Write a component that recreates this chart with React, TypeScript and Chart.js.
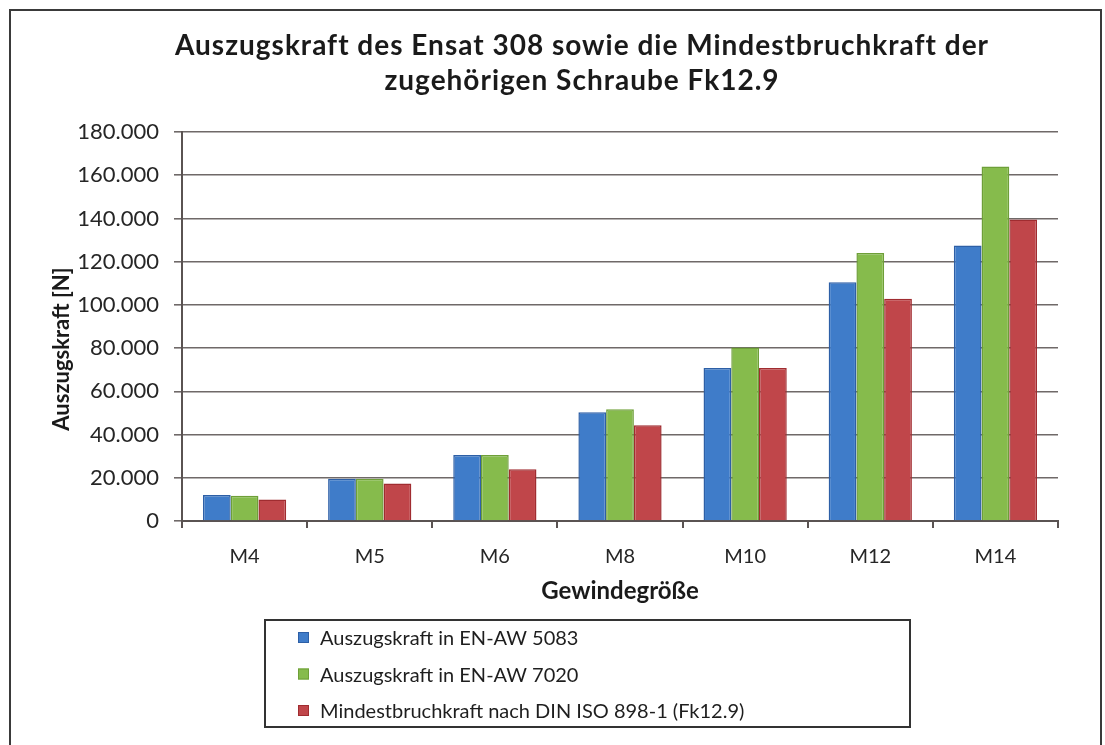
import React, { useEffect, useRef } from 'react';
import { Chart, registerables } from 'chart.js';

Chart.register(...registerables);

const categories = ['M4', 'M5', 'M6', 'M8', 'M10', 'M12', 'M14'];
const seriesNames = [
  'Auszugskraft in EN-AW 5083',
  'Auszugskraft in EN-AW 7020',
  'Mindestbruchkraft nach DIN ISO 898-1 (Fk12.9)',
];
const aw5083 = [12000, 19500, 30500, 50300, 70800, 110500, 127500];
const aw7020 = [11700, 19500, 30500, 51700, 80300, 124000, 164000];
const din898 = [10000, 17300, 24000, 44300, 70800, 102800, 139500];
const titleLines = [
  'Auszugskraft des Ensat 308 sowie die Mindestbruchkraft der',
  'zugehörigen Schraube Fk12.9',
];
const xTitle = 'Gewindegröße';
const yTitle = 'Auszugskraft [N]';
const yMax = 180000;
const yStep = 20000;

const fills = ['#3f7cc9', '#86bb4c', '#c0464a'];
const borders = ['#2d5fa6', '#6e9f38', '#a02c30'];
const FONT = 'Lato, "Noto Sans", sans-serif';

function fmt(v: number): string {
  if (v === 0) return '0';
  const s = String(Math.round(v));
  return s.replace(/\B(?=(\d{3})+(?!\d))/g, '.');
}

const framePlugin = {
  id: 'frameLegend',
  beforeDraw(chart: any) {
    const ctx = chart.ctx;
    ctx.save();
    ctx.fillStyle = '#ffffff';
    ctx.fillRect(0, 0, chart.width, chart.height);
    ctx.restore();
  },
  afterDraw(chart: any) {
    const ctx = chart.ctx;
    ctx.save();
    ctx.strokeStyle = '#3a3a3a';
    ctx.lineWidth = 2;
    ctx.strokeRect(10, 10, 1091, 780);

    // title
    ctx.fillStyle = '#1a1a1a';
    ctx.textAlign = 'center';
    ctx.textBaseline = 'middle';
    ctx.font = 'bold 28px ' + FONT;
    try { (ctx as any).letterSpacing = '1px'; } catch (e) {}
    titleLines.forEach((t, i) => ctx.fillText(t, 582, 46 + i * 35));
    try { (ctx as any).letterSpacing = '0px'; } catch (e) {}

    // y axis title
    ctx.save();
    ctx.translate(62, 349);
    ctx.rotate(-Math.PI / 2);
    ctx.font = 'bold 22px ' + FONT;
    ctx.fillText(yTitle, 0, 0);
    ctx.restore();

    // legend box
    const bx = 265, by = 620, bw = 645, bh = 107;
    ctx.strokeStyle = '#333333';
    ctx.lineWidth = 2;
    ctx.strokeRect(bx, by, bw, bh);
    ctx.font = '20px ' + FONT;
    ctx.textBaseline = 'middle';
    ctx.textAlign = 'left';
    chart.data.datasets.forEach((ds: any, i: number) => {
      const cy = by + 18 + i * 36.5;
      ctx.fillStyle = ds.backgroundColor;
      ctx.fillRect(bx + 33, cy - 6, 11, 11);
      ctx.strokeStyle = ds.borderColor;
      ctx.lineWidth = 1;
      ctx.strokeRect(bx + 33.5, cy - 5.5, 10, 10);
      ctx.fillStyle = '#1e1e1e';
      ctx.fillText(ds.label, bx + 55, cy + 1);
    });
    ctx.restore();
  },
};

export default function App() {
  const ref = useRef<HTMLCanvasElement | null>(null);
  useEffect(() => {
    if (!ref.current) return;
    const chart = new Chart(ref.current, {
      type: 'bar',
      data: {
        labels: categories,
        datasets: [aw5083, aw7020, din898].map((d, i) => ({
          label: seriesNames[i],
          data: d,
          backgroundColor: fills[i],
          borderColor: borders[i],
          borderWidth: 1.5,
          barPercentage: 1,
          categoryPercentage: 0.665,
        })),
      },
      options: {
        responsive: false,
        animation: false,
        layout: { padding: { left: 10, right: 47, top: 132, bottom: 134 } },
        plugins: {
          legend: { display: false },
          tooltip: { enabled: false },
          title: { display: false },
        },
        scales: {
          x: {
            afterFit: (s: any) => { s.height = 90; },
            grid: {
              display: true,
              drawOnChartArea: false,
              drawTicks: true,
              tickLength: 7,
              color: '#5a5352',
              lineWidth: 2,
              offset: true,
            },
            border: { display: true, color: '#5a5352', width: 2 },
            ticks: {
              color: '#262626',
              font: { family: FONT, size: 20 },
              padding: 17,
            },
            title: {
              display: true,
              text: xTitle,
              color: '#1a1a1a',
              font: { family: FONT, size: 24, weight: 'bold', lineHeight: 1.2 },
              padding: { top: 0, bottom: 5 },
            },
          },
          y: {
            min: 0,
            max: yMax,
            afterFit: (s: any) => { s.width = 172; },
            grid: {
              color: '#6f6968',
              lineWidth: 1.6,
              drawTicks: true,
              tickLength: 8,
            },
            border: { display: true, color: '#5a5352', width: 2 },
            ticks: {
              stepSize: yStep,
              color: '#262626',
              font: { family: FONT, size: 22 },
              padding: 15,
              callback: (v: any) => fmt(Number(v)),
            },
            title: { display: false },
          },
        },
      },
      plugins: [framePlugin],
    } as any);
    return () => chart.destroy();
  }, []);
  return (
    <div style={{ position: 'absolute', left: 0, top: 0, width: 1105, height: 745, background: '#fff' }}>
      <canvas ref={ref} width={1105} height={745} style={{ display: 'block', width: 1105, height: 745 }} />
    </div>
  );
}
